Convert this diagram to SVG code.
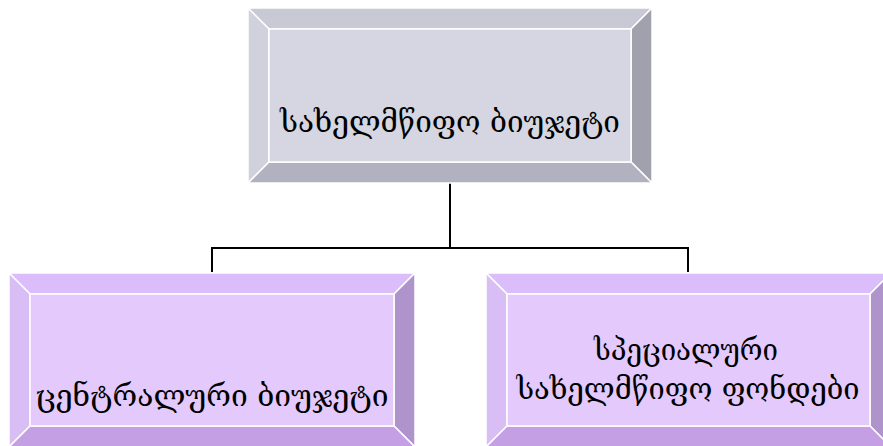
<svg xmlns="http://www.w3.org/2000/svg" width="883" height="446" viewBox="0 0 883 446">
<style>
.edge{stroke:#fff;stroke-width:1.5;stroke-linejoin:miter}
.conn{fill:none;stroke:#000;stroke-width:2}
.lbl{font-family:"DejaVu Serif","DejaVu Sans",serif;font-size:29px;fill:#000;text-anchor:middle}
.g-face{fill:#d5d6e1}.g-top{fill:#c9c9d6}.g-left{fill:#d0d1dd}.g-right{fill:#a1a1ad}.g-bot{fill:#b1b1bf}
.p-face{fill:#e3c9fc}.p-top{fill:#dcbdfb}.p-left{fill:#d9bef6}.p-right{fill:#af94cc}.p-bot{fill:#c49fe3}
</style>
<rect width="883" height="446" fill="#fff"/>
<g id="connectors">
<path class="conn" d="M450 183 V248 M212 248 H688 M212 247 V272 M688 247 V272"/>
</g>
<g id="node-top">
<polygon class="g-top edge" points="248,8 652,8 631,29 269,29"/>
<polygon class="g-left edge" points="248,8 269,29 269,162 248,183"/>
<polygon class="g-right edge" points="652,8 652,183 631,162 631,29"/>
<polygon class="g-bot edge" points="248,183 269,162 631,162 652,183"/>
<rect class="g-face edge" x="269" y="29" width="362" height="133"/>
<text class="lbl" x="450" y="132" textLength="340" lengthAdjust="spacingAndGlyphs">სახელმწიფო ბიუჯეტი</text>
</g>
<g id="node-left">
<polygon class="p-top edge" points="9,273 415,273 394,294 30,294"/>
<polygon class="p-left edge" points="9,273 30,294 30,426 9,447"/>
<polygon class="p-right edge" points="415,273 415,447 394,426 394,294"/>
<polygon class="p-bot edge" points="9,447 30,426 394,426 415,447"/>
<rect class="p-face edge" x="30" y="294" width="364" height="132"/>
<text class="lbl" x="212" y="406" textLength="353" lengthAdjust="spacingAndGlyphs">ცენტრალური ბიუჯეტი</text>
</g>
<g id="node-right">
<polygon class="p-top edge" points="486,273 891,273 870,294 507,294"/>
<polygon class="p-left edge" points="486,273 507,294 507,426 486,447"/>
<polygon class="p-right edge" points="891,273 891,447 870,426 870,294"/>
<polygon class="p-bot edge" points="486,447 507,426 870,426 891,447"/>
<rect class="p-face edge" x="507" y="294" width="363" height="132"/>
<text class="lbl" x="686" y="360" textLength="184" lengthAdjust="spacingAndGlyphs">სპეციალური</text>
<text class="lbl" x="688" y="399" textLength="343" lengthAdjust="spacingAndGlyphs">სახელმწიფო ფონდები</text>
</g>
</svg>
